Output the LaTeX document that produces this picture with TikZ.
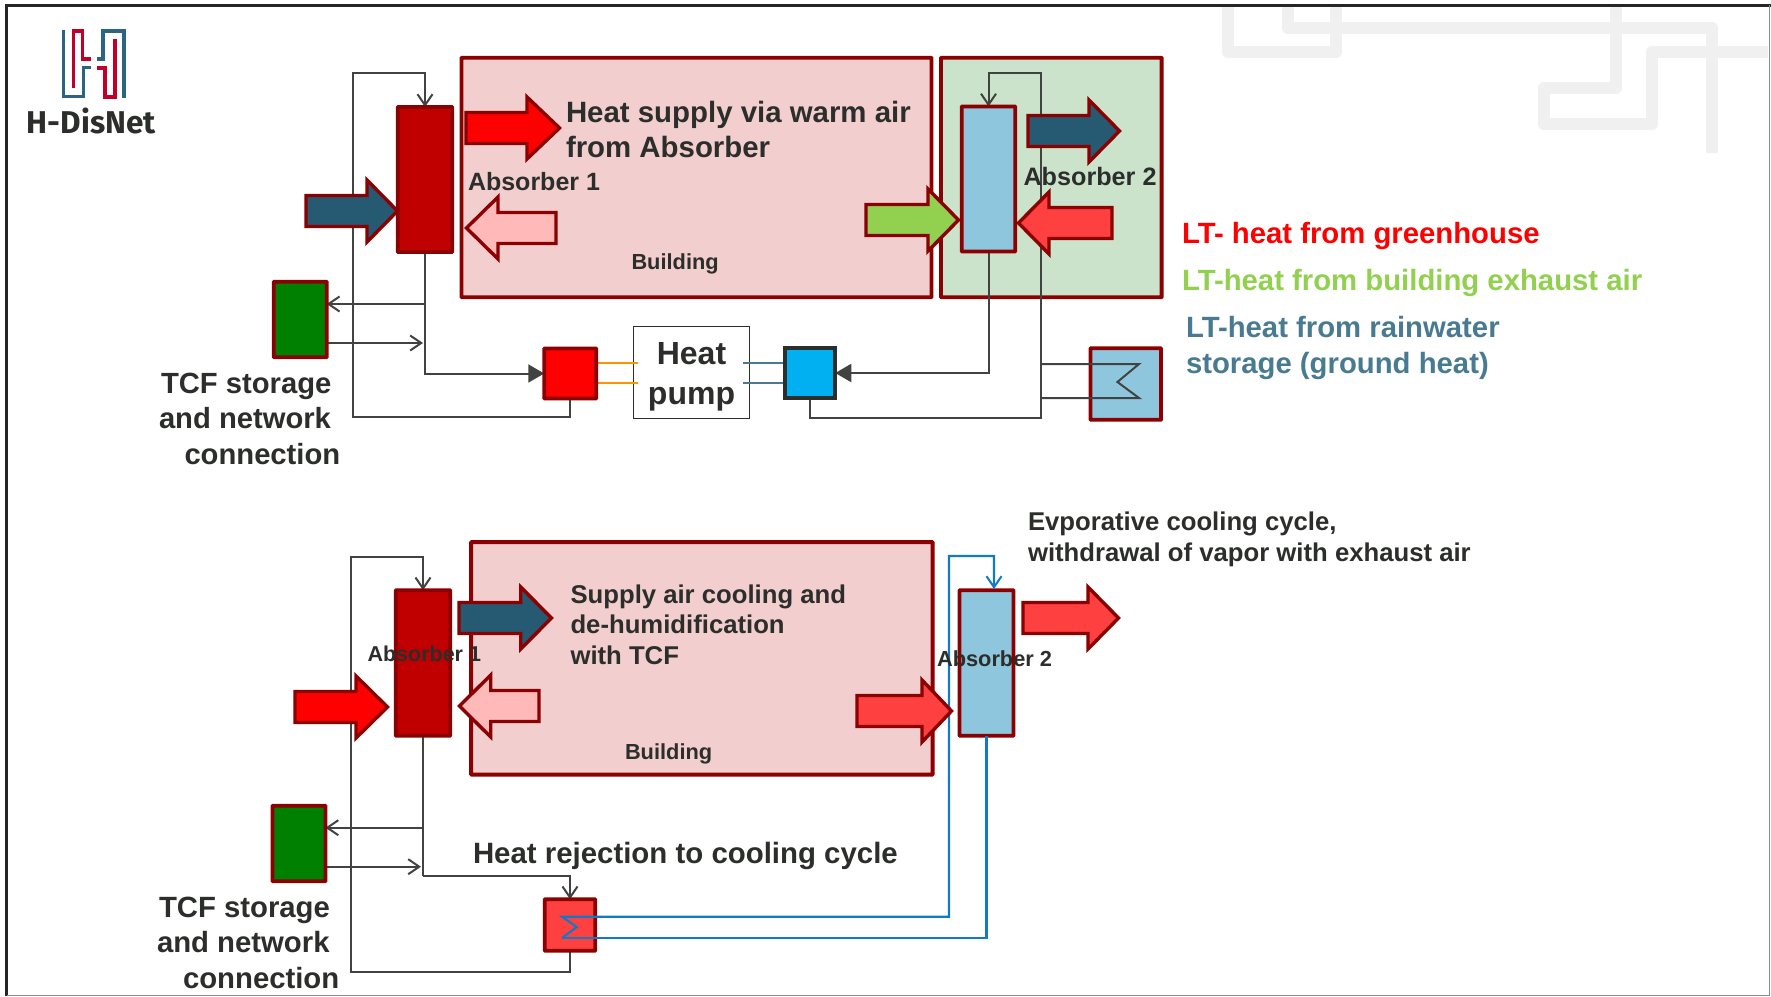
\documentclass[tikz,border=0pt]{standalone}
\usepackage{fontspec}
\setmainfont{Liberation Sans}
\newfontfamily\logofont{Fira Sans}
\usetikzlibrary{arrows.meta}
\pgfdeclarelayer{back}
\pgfdeclarelayer{lines}
\pgfsetlayers{back,lines,main}
\definecolor{ink}{HTML}{2C2E2B}
\definecolor{rim}{HTML}{8B0000}
\definecolor{pinkbg}{HTML}{F2CECE}
\definecolor{greenbg}{HTML}{CCE3CB}
\definecolor{absred}{HTML}{C00000}
\definecolor{absblue}{HTML}{8EC6DE}
\definecolor{darkblue}{HTML}{255A72}
\definecolor{softred}{HTML}{FF4040}
\definecolor{softpink}{HTML}{FFB9B9}
\definecolor{leaf}{HTML}{92D050}
\definecolor{slate}{HTML}{487B91}
\definecolor{cyanbox}{HTML}{00B0F0}
\definecolor{wireblue}{HTML}{1279C5}
\definecolor{pattern}{HTML}{F0F0F0}
\definecolor{logoteal}{HTML}{2B6583}
\definecolor{logored}{HTML}{C00028}
\newcommand{\blockarrow}[7]{%
  \draw[blockedge,fill=#1] (#2,{#5-#6}) -- (#3,{#5-#6}) -- (#3,{#5-#7}) -- (#4,#5)
    -- (#3,{#5+#7}) -- (#3,{#5+#6}) -- (#2,{#5+#6}) -- cycle;}
\newcommand{\fsz}[1]{\fontsize{#1}{#1}\selectfont}
\tikzset{
  x=1pt,y=-1pt,
  boxrim/.style={draw=rim,line width=3.8pt,inner sep=0pt,outer sep=0pt,rounded corners=0.5pt},
  blockedge/.style={draw=rim,line width=3.4pt,miter limit=10},
  wire/.style={draw=ink!90,line width=2pt},
  bluewire/.style={draw=wireblue,line width=2.1pt},
  openhead/.style={-{Straight Barb[length=11pt,width=15pt,line width=2pt]}},
  solidhead/.style={-{Triangle[length=16pt,width=18pt]}},
  lbl/.style={anchor=base west,inner sep=0pt,outer sep=0pt,text=ink,font=\bfseries},
  patline/.style={draw=pattern,line width=11.5pt,line join=round},
  logoline/.style={line width=3.4pt},
}
\begin{document}
\begin{tikzpicture}
\useasboundingbox (0,0) rectangle (1771,996);
\begin{pgfonlayer}{back}
\fill[white] (0,0) rectangle (1771,996);
% background pattern
\draw[patline] (1228,5) -- (1228,52) -- (1336,52) -- (1336,5);
\draw[patline] (1288,5) -- (1288,28) -- (1712,28) -- (1712,153);
\draw[patline] (1616,5) -- (1616,88) -- (1544,88) -- (1544,124) -- (1652,124) -- (1652,52) -- (1768,52);
% frame
\draw[black!85,line width=3pt] (6.5,996) -- (6.5,5) -- (1771,5);
\draw[black!45,line width=1.2pt] (1769.5,5) -- (1769.5,995.2) -- (6.5,995.2);
  \node[boxrim,fill=pinkbg,minimum width=470pt,minimum height=239.5pt] (bld) at (696.5,177.5) {};
  \node[boxrim,fill=greenbg,minimum width=220.6pt,minimum height=239.5pt] (grn) at (1051.3,177.5) {};
  \node[boxrim,fill=pinkbg,minimum width=461.5pt,minimum height=232.5pt] (bldb) at (701.85,658.35) {};
  \node[draw=ink,fill=white,line width=1pt,inner sep=0pt,minimum width=116.5pt,minimum height=92pt] (hp) at (691.25,372.5) {};
\end{pgfonlayer}
% logo
\draw[logoline,logoteal] (63.7,30) -- (63.7,96.7) -- (83.3,96.7) -- (83.3,67.7) -- (91,67.7);
\draw[logoline,logoteal] (96.7,59) -- (103,59) -- (103,31) -- (124,31) -- (124,97.7);
\draw[logoline,logored] (73.3,88.3) -- (73.3,31) -- (82.3,31) -- (82.3,59) -- (91,59);
\draw[logoline,logored] (96.7,68) -- (105,68) -- (105,97) -- (115,97) -- (115,39);
\node[lbl,font=\logofont\bfseries\fsz{31.5}] (logotext) at (27,133) {H-DisNet};

% upper system boxes
\node[boxrim,fill=absred,minimum width=54.5pt,minimum height=145pt] (a1) at (425,179.5) {};
\node[boxrim,fill=absblue,minimum width=53.5pt,minimum height=145pt] (a2) at (988.5,179) {};
\node[boxrim,fill=green!50!black,minimum width=53pt,minimum height=75.5pt] (st) at (300.25,319.5) {};
\node[boxrim,fill=red,minimum width=52pt,minimum height=50pt] (rs) at (570.25,373.5) {};
\node[draw=ink,line width=3.8pt,fill=cyanbox,inner sep=0pt,outer sep=0pt,minimum width=50.5pt,minimum height=49.5pt] (bs) at (810,373) {};
\node[boxrim,fill=absblue,minimum width=70.5pt,minimum height=71.5pt] (rain) at (1125.8,384) {};
% lower system boxes
\node[boxrim,fill=absred,minimum width=54.5pt,minimum height=145.5pt] (a1b) at (423,663) {};
\node[boxrim,fill=absblue,minimum width=54pt,minimum height=145.5pt] (a2b) at (986.5,663) {};
\node[boxrim,fill=green!50!black,minimum width=53pt,minimum height=75.5pt] (stb) at (299,843.5) {};
\node[boxrim,fill=softred,minimum width=50.5pt,minimum height=51.5pt] (sqb) at (570,925) {};

% junction points
\coordinate (l1) at (353,417);
\coordinate (l2) at (353,73);
\coordinate (j1) at (425,304);
\coordinate (j2) at (423,343);
\coordinate (o1) at (637.5,363);
\coordinate (o2) at (637.5,383);
\coordinate (b1) at (743,363);
\coordinate (b2) at (743,383);
\coordinate (m1) at (1040.5,418);
\coordinate (m2) at (1040.5,73);
\coordinate (c1) at (1040.5,364);
\coordinate (c2) at (1139,364);
\coordinate (c3) at (1117.4,382);
\coordinate (c4) at (1139,398);
\coordinate (c5) at (1040.5,398);
\coordinate (n1) at (351,971.7);
\coordinate (n2) at (351,556.7);
\coordinate (k1) at (423,827.7);
\coordinate (k2) at (421,866.7);
\coordinate (k3) at (423,875.7);
\coordinate (w0) at (562,916.7);
\coordinate (w1) at (576.7,927);
\coordinate (w2) at (562,938);
\coordinate (w3) at (949,916.7);
\coordinate (w4) at (949,556);
\coordinate (a2in) at (994,589);
\coordinate (w5) at (986.5,938);

\begin{pgfonlayer}{lines}
  \draw[wire,openhead] (rs.south) |- (l1) -- (l2) -| (a1.north);
  \draw[wire,solidhead] (a1.south) |- (rs.west);
  \draw[wire,openhead] (j1) -- (st.east |- j1);
  \draw[wire,openhead] (st.east |- j2) -- (j2);
  \draw[wire,solidhead] (a2.south) |- (bs.east);
  \draw[wire,openhead] (bs.south) |- (m1) -- (m2) -| (a2.north);
  \draw[line width=1.8pt,orange!85!yellow] (rs.east |- o1) -- (o1) (rs.east |- o2) -- (o2);
  \draw[line width=1.8pt,slate] (b1) -- (bs.west |- b1) (b2) -- (bs.west |- b2);
  \draw[wire,openhead] (sqb.south) |- (n1) -- (n2) -| (a1b.north);
  \draw[wire] (a1b.south) -- (k3);
  \draw[wire,openhead] (k3) -| (sqb.north);
  \draw[wire,openhead] (k1) -- (stb.east |- k1);
  \draw[wire,openhead] (stb.east |- k2) -- (k2);
\end{pgfonlayer}

% coils drawn above their boxes
\draw[wire] (c1) -- (c2) -- (c3) -- (c4) -- (c5);
\draw[bluewire,openhead] (w2) -- (w1) -- (w0) -- (w3) -- (w4) -| (a2in);
\draw[bluewire] (w2) -- (w5) -- (a2b.south -| w5);

% block arrows upper
\blockarrow{red}{466}{527}{559.5}{128}{15.5}{31}
\blockarrow{darkblue}{306}{367}{397.5}{211}{15.5}{31}
\blockarrow{softpink}{556}{498}{466.5}{228}{15.5}{31}
\blockarrow{leaf}{866}{928}{958.5}{220}{15.5}{31}
\blockarrow{softred}{1112}{1049}{1018.5}{223}{15.5}{31}
\blockarrow{darkblue}{1028}{1089}{1119.5}{131}{15.5}{31}
% block arrows lower
\blockarrow{darkblue}{459}{520.7}{551.5}{618}{15.5}{31}
\blockarrow{softpink}{539}{490.7}{459.5}{706}{15.5}{31}
\blockarrow{red}{295}{356}{387.5}{707}{15.5}{31}
\blockarrow{softred}{857}{922}{951.5}{711}{15.5}{31}
\blockarrow{softred}{1023}{1088}{1118.5}{618}{15.5}{31}

% labels upper
\node[lbl,font=\bfseries\fsz{29.4}] (t1) at (566,122) {Heat supply via warm air};
\node[lbl,font=\bfseries\fsz{29.4}] (t2) at (566,157) {from Absorber};
\node[lbl,font=\bfseries\fsz{25}] (t3) at (468,190) {Absorber 1};
\node[lbl,font=\bfseries\fsz{25.2}] (t4) at (1023.5,185) {Absorber 2};
\node[lbl,font=\bfseries\fsz{21.8}] (t5) at (631.5,269) {Building};
\node[lbl,font=\bfseries\fsz{29.2}] (t6) at (161,393) {TCF storage};
\node[lbl,font=\bfseries\fsz{29.2}] (t7) at (159,428) {and network};
\node[lbl,font=\bfseries\fsz{29.2}] (t8) at (184.5,464) {connection};
\node[lbl,font=\bfseries\fsz{32},anchor=base] (t9) at (691.5,364) {Heat};
\node[lbl,font=\bfseries\fsz{32},anchor=base] (t10) at (691.5,404) {pump};
\node[lbl,font=\bfseries\fsz{29.3},text=red] (t11) at (1182,243) {LT- heat from greenhouse};
\node[lbl,font=\bfseries\fsz{29.3},text=leaf] (t12) at (1182,290) {LT-heat from building exhaust air};
\node[lbl,font=\bfseries\fsz{29.3},text=slate] (t13) at (1186,337) {LT-heat from rainwater};
\node[lbl,font=\bfseries\fsz{29.3},text=slate] (t14) at (1186,373) {storage (ground heat)};
% labels lower
\node[lbl,font=\bfseries\fsz{25.7}] (u1) at (570.5,603) {Supply air cooling and};
\node[lbl,font=\bfseries\fsz{25.7}] (u2) at (570.5,633) {de-humidification};
\node[lbl,font=\bfseries\fsz{25.7}] (u3) at (570.5,664) {with TCF};
\node[lbl,font=\bfseries\fsz{21.5}] (u4) at (367.5,661.7) {Absorber 1};
\node[lbl,font=\bfseries\fsz{21.8}] (u5) at (937,666.7) {Absorber 2};
\node[lbl,font=\bfseries\fsz{21.8}] (u6) at (625,759) {Building};
\node[lbl,font=\bfseries\fsz{29.4}] (u7) at (473,863) {Heat rejection to cooling cycle};
\node[lbl,font=\bfseries\fsz{25.7}] (u8) at (1028,530) {Evporative cooling cycle,};
\node[lbl,font=\bfseries\fsz{25.7}] (u9) at (1028,561) {withdrawal of vapor with exhaust air};
\node[lbl,font=\bfseries\fsz{29.3}] (u10) at (159,917) {TCF storage};
\node[lbl,font=\bfseries\fsz{29.3}] (u11) at (157,952) {and network};
\node[lbl,font=\bfseries\fsz{29.3}] (u12) at (183,988) {connection};
\end{tikzpicture}
\end{document}
